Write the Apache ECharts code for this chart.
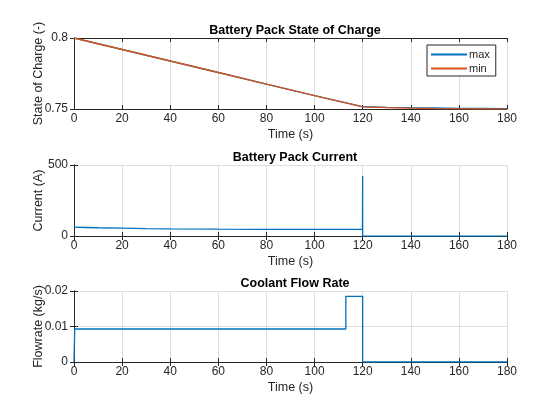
<!DOCTYPE html>
<html>
<head>
<meta charset="utf-8">
<script src="https://cdn.jsdelivr.net/npm/echarts@6/dist/echarts.min.js"></script>
<style>
html,body{margin:0;padding:0;background:#fff;}
#main{width:560px;height:420px;}
</style>
</head>
<body>
<div id="main"></div>
<script>
// state of charge (-)
var socTime = [0, 20, 40, 60, 80, 100, 120, 130, 140, 150, 160, 170, 180];
var socMax  = [0.8, 0.7919, 0.7838, 0.7757, 0.7676, 0.7595, 0.7516, 0.7512, 0.7509, 0.7507, 0.7505, 0.7504, 0.7503];
var socMin  = [0.8, 0.7919, 0.7838, 0.7757, 0.7676, 0.7595, 0.7515, 0.7510, 0.7506, 0.7503, 0.7501, 0.7500, 0.7499];

// pack current (A)
var curTime = [0, 5, 10, 20, 30, 40, 60, 80, 100, 119.9, 120, 120, 121, 180];
var curVal  = [62, 60, 58, 55, 52, 50, 48, 47, 47, 46, 422, 0, -1, -1];

// coolant flow (kg/s)
var flowTime = [0, 0.3, 113, 113, 120, 120, 180];
var flowVal  = [0, 0.0093, 0.0093, 0.0185, 0.0185, 0, 0];

var titles = ['Battery Pack State of Charge', 'Battery Pack Current', 'Coolant Flow Rate'];
var yNames = ['State of Charge (-)', 'Current (A)', 'Flowrate (kg/s)'];
var yMin = [0.75, 0, 0];
var yMax = [0.8, 500, 0.02];
var yStep = [0.05, 500, 0.01];

var blue = '#0072BD', orange = '#D95319';
var ink = '#262626', gridCol = '#dfdfdf';
var font = 'Liberation Sans, Arial, Helvetica, sans-serif';
var tops = [38, 165, 291];

function toPairs(xs, ys){
	var out = [];
	for (var i = 0; i < xs.length; i++) { out.push([xs[i], ys[i]]); }
	return out;
}

var grids = [], xAxes = [], yAxes = [], titleList = [];
for (var i = 0; i < 3; i++) {
	grids.push({left: 74, right: 53, top: tops[i], height: 71, containLabel: false});
	titleList.push({
		text: titles[i], left: 290, top: tops[i] - 19, textAlign: 'center',
		textStyle: {fontFamily: font, fontSize: 12.5, fontWeight: 'bold', color: '#000'}
	});
}
// bottom x axes
for (var i = 0; i < 3; i++) {
	xAxes.push({
		type: 'value', gridIndex: i, min: 0, max: 180, interval: 20, position: 'bottom',
		name: 'Time (s)', nameLocation: 'middle', nameGap: 19, nameMoveOverlap: false,
		nameTextStyle: {fontFamily: font, fontSize: 12.5, color: ink},
		axisLine: {lineStyle: {color: ink, width: 1}},
		axisTick: {inside: true, length: 4, lineStyle: {color: ink}},
		axisLabel: {fontFamily: font, fontSize: 12, color: ink, margin: 4},
		splitLine: {show: true, lineStyle: {color: gridCol, width: 1}}
	});
}
// top x axes (ticks only)
for (var i = 0; i < 3; i++) {
	xAxes.push({
		type: 'value', gridIndex: i, min: 0, max: 180, interval: 20, position: 'top',
		axisLine: {show: true, lineStyle: {color: ink, width: 1}},
		axisTick: {show: true, inside: true, length: 4, lineStyle: {color: ink}},
		axisLabel: {show: false}, splitLine: {show: false}
	});
}
// left y axes
for (var i = 0; i < 3; i++) {
	yAxes.push({
		type: 'value', gridIndex: i, min: yMin[i], max: yMax[i], interval: yStep[i], position: 'left',
		name: yNames[i], nameLocation: 'middle', nameGap: 29, nameRotate: 90, nameMoveOverlap: false,
		nameTextStyle: {fontFamily: font, fontSize: 12.5, color: ink},
		axisLine: {show: true, lineStyle: {color: ink, width: 1}},
		axisTick: {show: true, inside: true, length: 4, lineStyle: {color: ink}},
		axisLabel: {fontFamily: font, fontSize: 12, color: ink, margin: 6,
			formatter: function(v){ return String(Math.round(v * 10000) / 10000); }},
		splitLine: {show: true, lineStyle: {color: gridCol, width: 1}}
	});
}
// right y axes (ticks only)
for (var i = 0; i < 3; i++) {
	yAxes.push({
		type: 'value', gridIndex: i, min: yMin[i], max: yMax[i], interval: yStep[i], position: 'right',
		axisLine: {show: true, lineStyle: {color: ink, width: 1}},
		axisTick: {show: true, inside: true, length: 4, lineStyle: {color: ink}},
		axisLabel: {show: false}, splitLine: {show: false}
	});
}

function lineSeries(name, data, xi, color){
	return {
		name: name, type: 'line', xAxisIndex: xi, yAxisIndex: xi, data: data,
		showSymbol: false, symbol: 'none', animation: false,
		lineStyle: {color: color, width: 1.3}, itemStyle: {color: color}
	};
}

var option = {
	backgroundColor: '#fff',
	animation: false,
	title: titleList,
	grid: grids,
	xAxis: xAxes,
	yAxis: yAxes,
	legend: {
		data: ['max', 'min'], orient: 'vertical', left: 427, top: 45,
		itemWidth: 36, itemHeight: 2, itemGap: 3, icon: 'rect',
		padding: [4, 6, 2, 4], borderColor: ink, borderWidth: 1, backgroundColor: '#fff',
		textStyle: {fontFamily: font, fontSize: 11, color: ink, lineHeight: 11, padding: [0, 0, 0, -3]}
	},
	series: [
		lineSeries('max', toPairs(socTime, socMax), 0, blue),
		lineSeries('min', toPairs(socTime, socMin), 0, orange),
		lineSeries('current', toPairs(curTime, curVal), 1, blue),
		lineSeries('flow', toPairs(flowTime, flowVal), 2, blue)
	]
};

var chart = echarts.init(document.getElementById('main'));
chart.setOption(option);
</script>
</body>
</html>
